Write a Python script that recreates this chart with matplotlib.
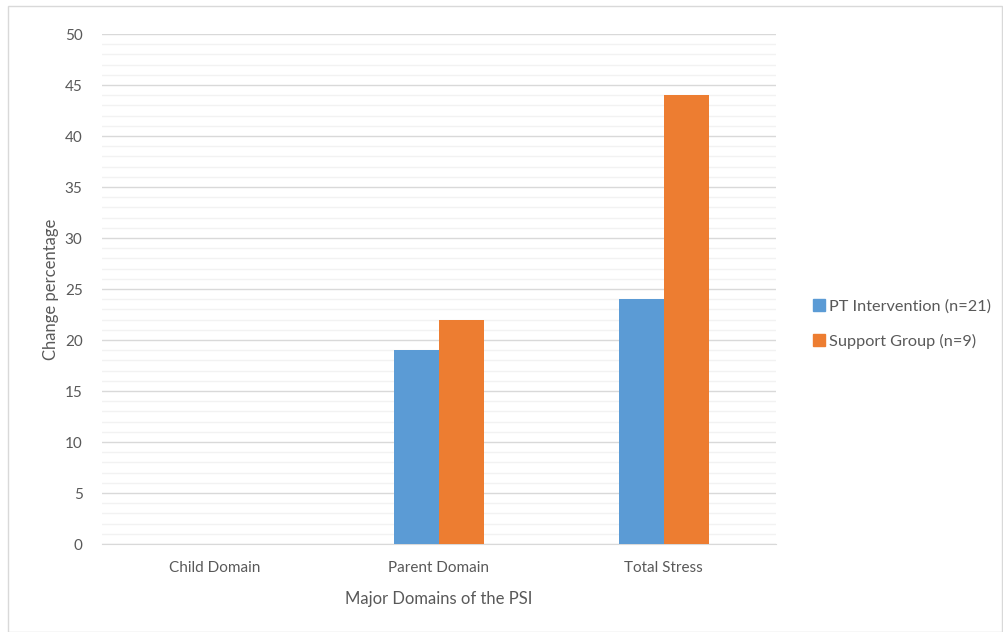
import matplotlib.pyplot as plt
import numpy as np
from matplotlib.patches import Rectangle
from matplotlib.lines import Line2D

categories = ["Child Domain", "Parent Domain", "Total Stress"]
pt_intervention = [0, 19, 24]
support_group = [0, 22, 44]
series_names = ["PT Intervention (n=21)", "Support Group (n=9)"]

BLUE = "#5B9BD5"
ORANGE = "#ED7D31"
TEXT = "#595959"

plt.rcParams["font.family"] = ["Lato", "DejaVu Sans"]

fig = plt.figure(figsize=(10.04, 6.32), dpi=100)
ax = fig.add_axes([0.1016, 0.1392, 0.6713, 0.807])

x = np.arange(len(categories))
w = 0.2
ax.bar(x - w / 2, pt_intervention, width=w, color=BLUE, zorder=3)
ax.bar(x + w / 2, support_group, width=w, color=ORANGE, zorder=3)

ax.set_xlim(-0.5, 2.5)
ax.set_ylim(0, 50)
ax.set_yticks(np.arange(0, 51, 5))
ax.set_yticks(np.arange(0, 51, 1), minor=True)
ax.grid(axis="y", which="major", color="#D9D9D9", linewidth=1.0, zorder=0)
ax.grid(axis="y", which="minor", color="#F2F2F2", linewidth=1.0, zorder=0)
ax.set_xticks(x)
ax.set_xticklabels(categories)
ax.tick_params(axis="both", which="both", length=0, colors=TEXT, labelsize=11)
ax.tick_params(axis="x", pad=12)
ax.tick_params(axis="y", pad=14)
for s in ["top", "right", "left"]:
    ax.spines[s].set_visible(False)
ax.spines["bottom"].set_color("#D9D9D9")

ax.set_xlabel("Major Domains of the PSI", color=TEXT, fontsize=12, labelpad=12)
ax.set_ylabel("Change percentage", color=TEXT, fontsize=12, labelpad=4)

handles = [Line2D([], [], marker="s", linestyle="", color=c, markersize=8) for c in (BLUE, ORANGE)]
fig.legend(handles, series_names, loc="center left", bbox_to_anchor=(0.793, 0.487),
           frameon=False, labelcolor=TEXT, fontsize=11.7, handletextpad=0.1,
           labelspacing=1.25, handlelength=1.0)

fig.patches.append(Rectangle((0.008, 0.0), 0.99, 0.99, transform=fig.transFigure,
                             fill=False, edgecolor="#D9D9D9", linewidth=1))

fig.savefig("out.png", dpi=100)
